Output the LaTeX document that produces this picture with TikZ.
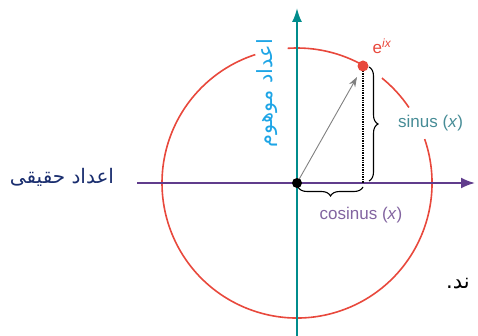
\documentclass[tikz,border=0pt]{standalone}
\usepackage{fontspec}
\setmainfont{Liberation Sans}
\TeXXeTstate=1
\newfontfamily\arabicfont[Script=Arabic]{DejaVu Sans}
\usetikzlibrary{arrows.meta,decorations.pathreplacing}
\definecolor{cred}{RGB}{232,72,60}
\definecolor{cpurple}{RGB}{96,60,140}
\definecolor{cteal}{RGB}{0,140,140}
\definecolor{cblue}{RGB}{30,165,230}
\definecolor{cnavy}{RGB}{25,45,110}
\definecolor{csin}{RGB}{70,140,150}
\definecolor{ccos}{RGB}{130,100,160}
\tikzset{
  axisline/.style={line width=2pt},
  circarc/.style={cred,line width=1.6pt},
  bracestyle/.style={decorate,decoration={brace,amplitude=9pt},line width=1.1pt,black},
  lbl/.style={inner sep=0pt,font=\fontsize{17}{19}\selectfont},
}
\begin{document}
\begin{tikzpicture}[x=1pt,y=-1pt]
\useasboundingbox (0,0) rectangle (478,336);
% key points
\coordinate (O) at (297,183);
\coordinate (P) at (363,66);
\coordinate (Q) at (363,183);
\coordinate (L) at (137,183);
\coordinate (R) at (475,183);
\coordinate (B) at (297,336);
\coordinate (T) at (297,8);
\coordinate (bt) at (369,67);
\coordinate (bb) at (369,181);
\coordinate (cr) at (363,187);
\coordinate (cl) at (298,187);
\coordinate (AE) at (357,77);
% circle (broken where labels sit)
\draw[circarc] (O) ++(-51:135) arc[start angle=-51,end angle=-34,radius=135];
\draw[circarc] (O) ++(-94:135) arc[start angle=-94,end angle=-60,radius=135];
\draw[circarc] (O) ++(-379:135) arc[start angle=-379,end angle=-108,radius=135];
% axes
\draw[axisline,cpurple,-{Latex[length=14pt,width=11pt]}] (L) -- (R);
\draw[axisline,cteal,-{Latex[length=14pt,width=10pt]}] (B) -- (T);
% dotted projection
\draw[black,line width=1.4pt,densely dotted] (P) -- (Q);
% gray arrow
\draw[gray,line width=0.9pt,-{Stealth[length=10pt,width=7pt]}] (O) -- (AE);
% braces
\draw[bracestyle] (bt) -- (bb);
\draw[bracestyle] (cr) -- (cl);
% points
\fill[cred] (P) circle[radius=5.5];
\fill[black] (O) circle[radius=5];
% labels
\node[inner sep=0pt,text=cred,font=\fontsize{17}{19}\selectfont] (eix) at (382,46) {e\textsuperscript{\itshape ix}};
\node[lbl,text=csin,anchor=west] (sin) at (398,123) {sinus (\textit{x})};
\node[lbl,text=ccos] (cos) at (361,215) {cosinus (\textit{x})};
\node[inner sep=0pt,text=cnavy,font=\arabicfont\fontsize{20}{22}\selectfont] (real) at (62,177) {\beginR اعداد حقیقی\endR};
\node[inner sep=0pt,text=cblue,rotate=90,font=\arabicfont\fontsize{21}{23}\selectfont] (imag) at (267,93) {\beginR اعداد موهوم\endR};
\node[inner sep=0pt,anchor=west,text=black,font=\arabicfont\fontsize{21}{23}\selectfont] (frag) at (446,284) {\beginR ند.\endR};
\end{tikzpicture}
\end{document}
